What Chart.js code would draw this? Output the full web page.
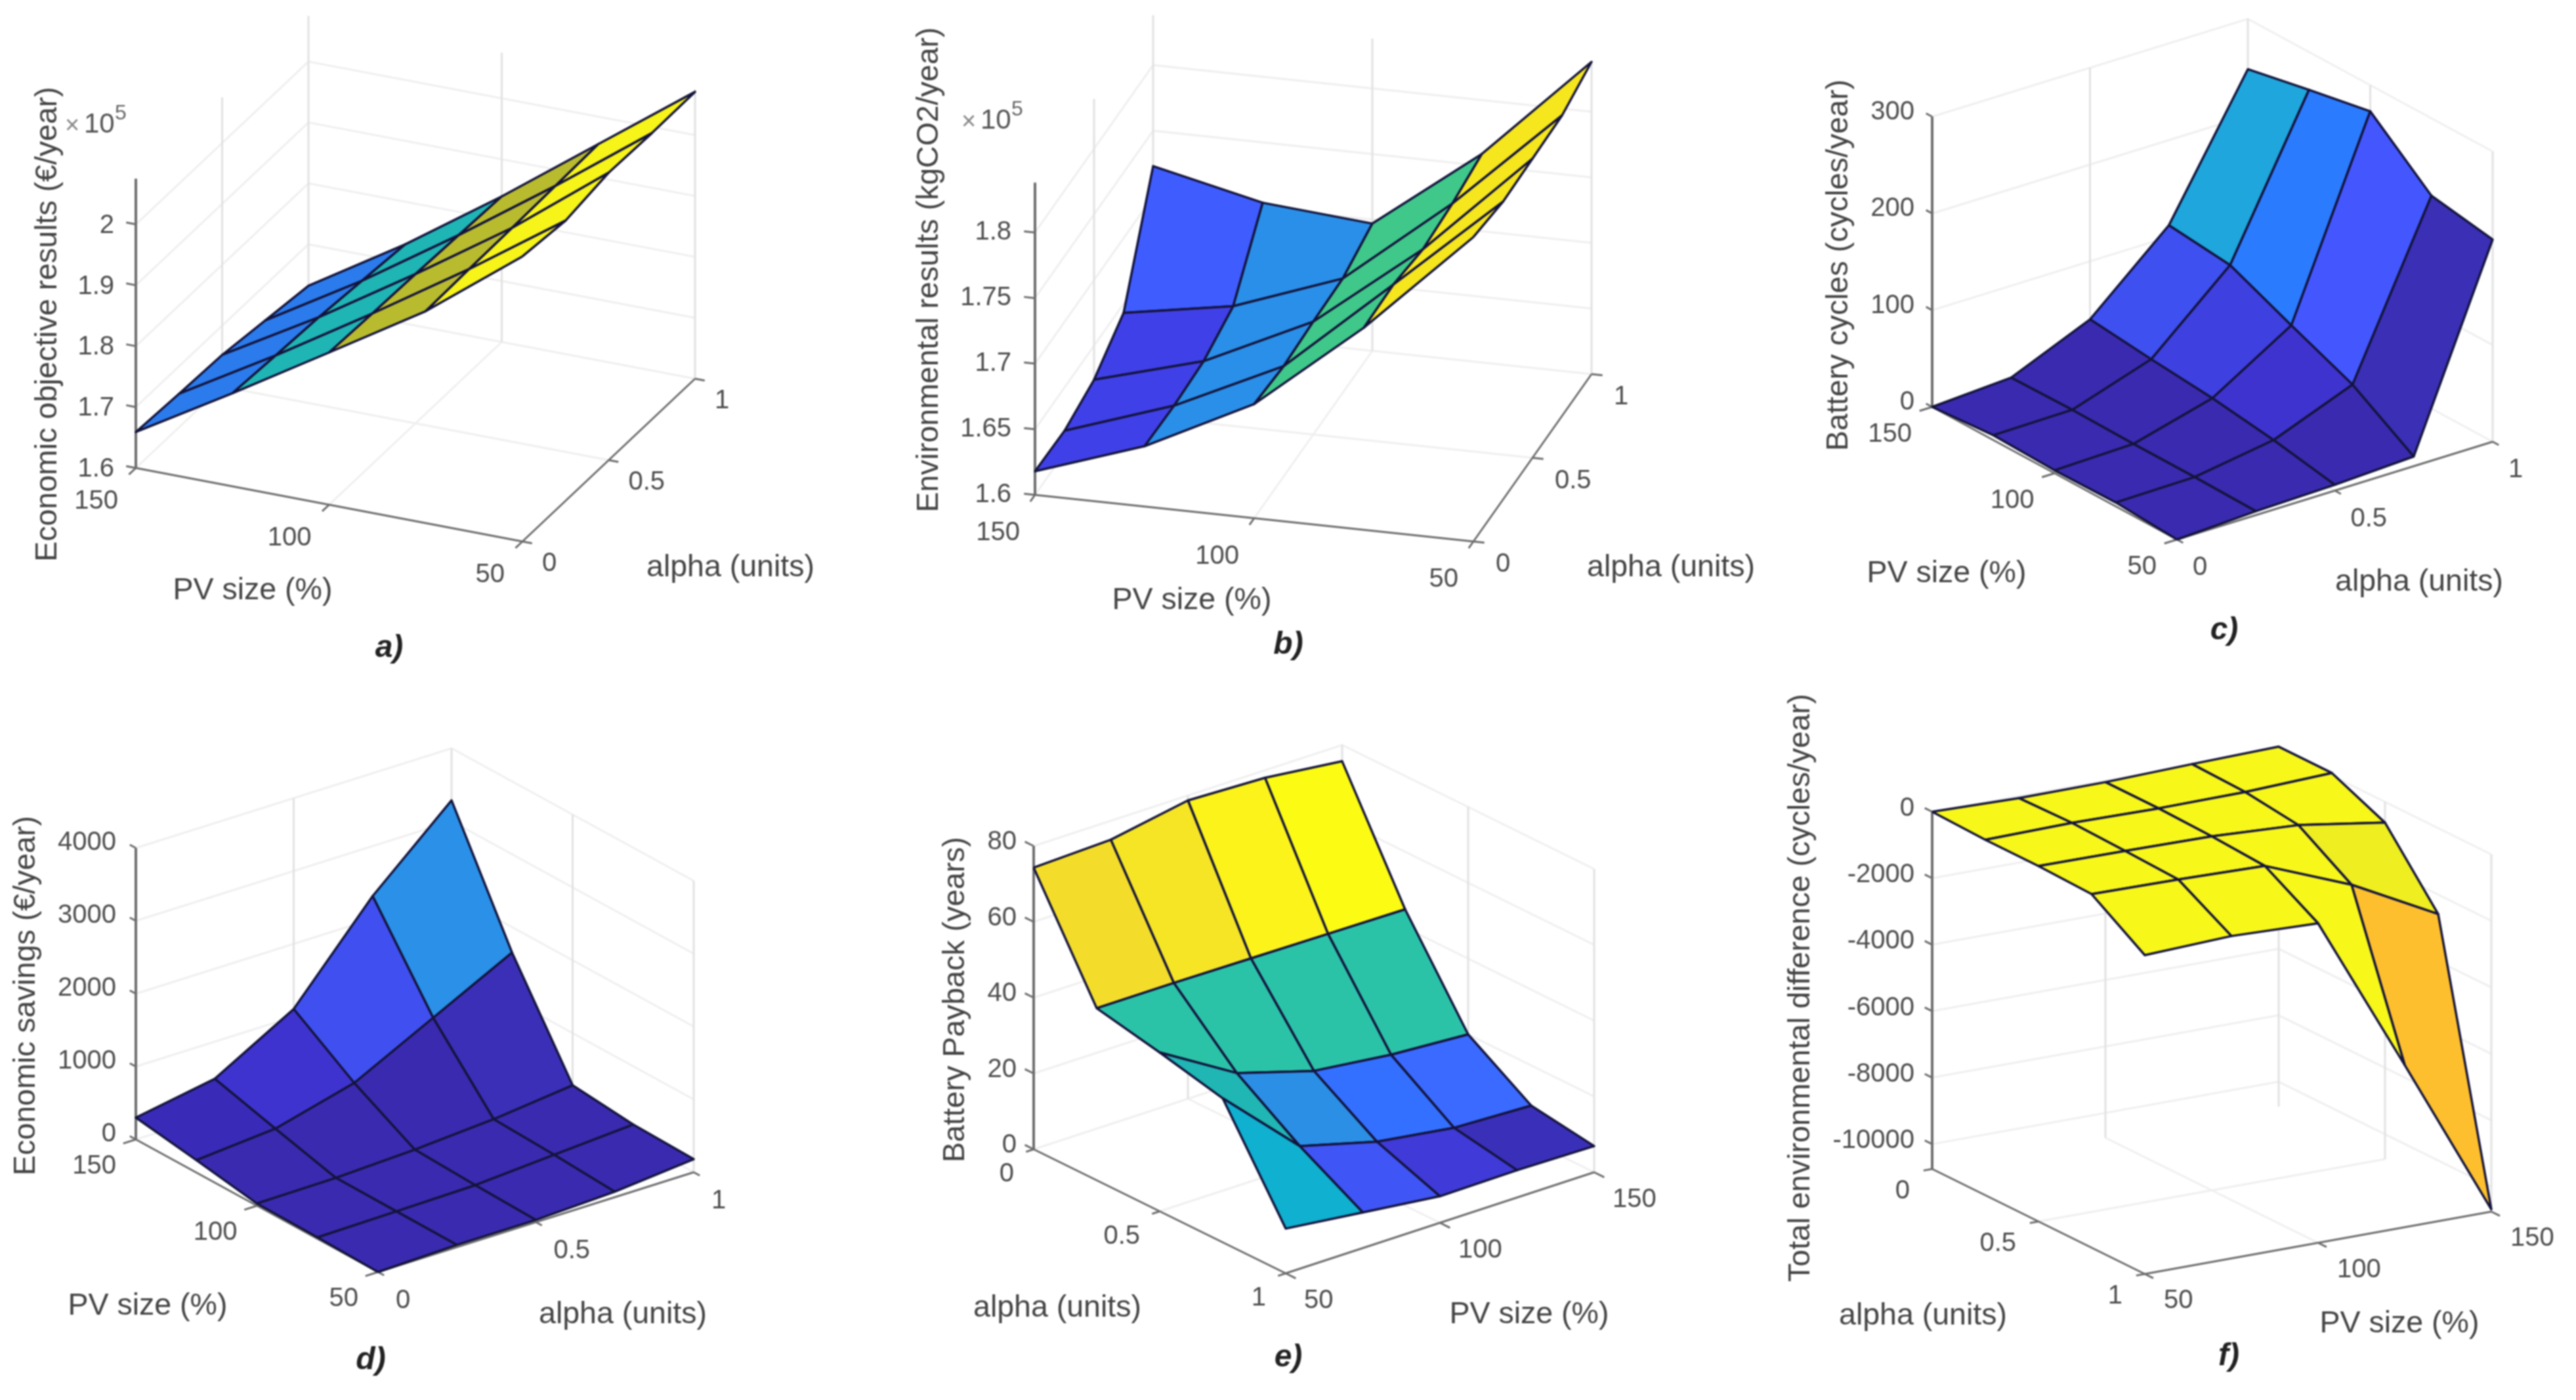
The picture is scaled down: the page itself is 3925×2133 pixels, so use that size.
<!DOCTYPE html>
<html>
<head>
<meta charset="utf-8">
<title>Surface results</title>
<script src="https://cdn.jsdelivr.net/npm/chart.js@4"></script>
<style>
  html, body { margin: 0; background: #fff; }
  canvas { position: absolute; filter: blur(1.1px); }
</style>
</head>
<body>
<script>
const pvSizes = [50, 75, 100, 125, 150];
const alphaLevels = [0, 0.25, 0.5, 0.75, 1];
const pvTicks = [50, 100, 150];
const alphaTicks = [0, 0.5, 1];

// every table: one row per alpha level, one column per PV size
const economicObjective = [
  [2.068, 1.948, 1.850, 1.753, 1.659],
  [2.060, 1.950, 1.847, 1.748, 1.655],
  [2.072, 1.951, 1.845, 1.744, 1.652],
  [2.070, 1.953, 1.842, 1.737, 1.642],
  [2.071, 1.955, 1.839, 1.730, 1.632]
];
const environmentalResults = [
  [1.832, 1.754, 1.687, 1.646, 1.618],
  [1.827, 1.755, 1.684, 1.645, 1.617],
  [1.828, 1.750, 1.686, 1.647, 1.624],
  [1.829, 1.753, 1.687, 1.657, 1.643],
  [1.838, 1.759, 1.697, 1.704, 1.723]
];
const batteryCycles = [
  [0, 4, 3, 5, 0],
  [4, 5, 5, 6, 5],
  [6, 18, 27, 33, 40],
  [10, 50, 77, 105, 112],
  [209, 220, 273, 261, 248]
];
const economicSavings = [
  [0, 20, 30, 170, 300],
  [30, 35, 40, 260, 490],
  [30, 52, 85, 545, 1105],
  [75, 127, 160, 1097, 2313],
  [180, 200, 283, 1649, 3284]
];
const batteryPayback = [
  [74.3, 75, 78.7, 78, 75.7],
  [45.4, 45.4, 45.2, 45, 44.8],
  [41.9, 29.8, 23.7, 21.3, 20],
  [38, 18.7, 13.2, 10.2, 9.4],
  [11.8, 9.4, 7, 7.2, 6.9]
];
const totalEnvDifference = [
  [0, -58, -48, 27, 82],
  [-54, -15, -48, -25, 80],
  [-54, -70, -100, -230, -625],
  [-110, -140, -200, -1235, -2585],
  [-1156, -1050, -1136, -5867, -10680]
];

const ticksA = [1.6, 1.7, 1.8, 1.9, 2];
const ticksB = [1.6, 1.65, 1.7, 1.75, 1.8];
const ticksC = [0, 100, 200, 300];
const ticksD = [0, 1000, 2000, 3000, 4000];
const ticksE = [0, 20, 40, 60, 80];
const ticksF = [0, -2000, -4000, -6000, -8000, -10000];

// face colours, one per cell, same row/column order as the tables
const dk = '#3a2ab0';
const yl = '#f7f71a';
const facesA = Array(4).fill(['#f6f419', '#b9bb2e', '#1fb5b5', '#2b7bec']);
const facesB = [
  ['#f5e61e', '#3fc88a', '#2a8fe8', '#4040e8'],
  ['#f5e61e', '#3fc88a', '#2a8fe8', '#4040e8'],
  ['#f5e61e', '#3fc88a', '#2a8fe8', '#4040e8'],
  ['#f5e61e', '#3fc88a', '#2a8fe8', '#3f5cff']
];
const facesC = [
  [dk, dk, dk, dk],
  [dk, dk, dk, dk],
  [dk, '#3f33d0', '#3e40e0', '#3f50f0'],
  ['#3a2fb5', '#4457ff', '#2b7bff', '#1fa6dc']
];
const facesD = [
  [dk, dk, dk, '#3a2ab8'],
  [dk, dk, dk, '#3f33d0'],
  [dk, dk, dk, '#4050f0'],
  [dk, dk, '#3b2fb8', '#2a90e8']
];
const facesE = [
  ['#f3dd2a', '#f5e525', '#fbf31a', '#fbfb14'],
  ['#2bc3a8', '#2bc3a8', '#2bc3a8', '#2bc3a8'],
  ['#1fb6b3', '#2b8fe6', '#3370ff', '#3a6aff'],
  ['#0fb0d0', '#4055f5', '#3f3ad8', '#3a2fb8']
];
const facesF = [
  [yl, yl, yl, yl],
  [yl, yl, yl, yl],
  [yl, yl, yl, '#eeee20'],
  [yl, yl, yl, '#fdbf2d']
];

const panels = [
  { rect: [0, 0, 1290, 1040], values: economicObjective, faces: facesA, zTicks: ticksA, zLabels: ['1.6', '1.7', '1.8', '1.9', '2'],
    left: [207, 713], front: [796, 825], right: [1059, 577], zBase: 1.6, zTop: 2.075, zPx: 928,
    zLabel: 'Economic objective results (€/year)', zLabelPos: [73, 494], zOff: [-33, 2], pvOff: [-27, 51], alOff: [30, 34],
    pvPos: [385, 900], alPos: [1113, 865], tag: 'a)', tagPos: [593, 988], exp: [99, 190] },
  { rect: [1300, 0, 1390, 1040], values: environmentalResults, faces: facesB, zTicks: ticksB, zLabels: ['1.6', '1.65', '1.7', '1.75', '1.8'],
    left: [1577, 754], front: [2245, 825], right: [2425, 570], zBase: 1.6, zTop: 1.838, zPx: 1999,
    zLabel: 'Environmental results (kgCO2/year)', zLabelPos: [1416, 411], zOff: [-36, 0], pvOff: [-23, 58], alOff: [34, 35],
    pvPos: [1816, 915], alPos: [2546, 865], tag: 'b)', tagPos: [1963, 983], exp: [1465, 184] },
  { rect: [2690, 0, 1235, 1040], values: batteryCycles, faces: facesC, zTicks: ticksC, zLabels: ['0', '100', '200', '300'],
    left: [2944, 620], front: [3317, 822], right: [3798, 673], zBase: 0, zTop: 300, zPx: 1.474,
    zLabel: 'Battery cycles (cycles/year)', zLabelPos: [2802, 404], zOff: [-27, -7], pvOff: [-31, 42], alOff: [24, 43],
    pvPos: [2966, 874], alPos: [3686, 887], tag: 'c)', tagPos: [3389, 961] },
  { rect: [0, 1040, 1290, 1093], values: economicSavings, faces: facesD, zTicks: ticksD, zLabels: ['0', '1000', '2000', '3000', '4000'],
    left: [207, 1736], front: [576, 1938], right: [1057, 1786], zBase: 0, zTop: 4000, zPx: 0.111,
    zLabel: 'Economic savings (€/year)', zLabelPos: [40, 1517], zOff: [-30, -8], pvOff: [-30, 41], alOff: [27, 44],
    pvPos: [225, 1990], alPos: [949, 2003], tag: 'd)', tagPos: [565, 2073] },
  { rect: [1300, 1040, 1330, 1093], values: batteryPayback, faces: facesE, zTicks: ticksE, zLabels: ['0', '20', '40', '60', '80'], pvOnRight: true,
    left: [1575, 1751], front: [1959, 1940], right: [2429, 1786], zBase: 0, zTop: 80, zPx: 5.775,
    zLabel: 'Battery Payback (years)', zLabelPos: [1456, 1523], zOff: [-26, -6], pvOff: [28, 42], alOff: [-30, 38],
    pvPos: [2330, 2003], alPos: [1611, 1993], tag: 'e)', tagPos: [1963, 2069] },
  { rect: [2640, 1040, 1285, 1093], values: totalEnvDifference, faces: facesF, zTicks: ticksF, zLabels: ['0', '-2000', '-4000', '-6000', '-8000', '-10000'], pvOnRight: true,
    left: [2944, 1781], front: [3268, 1941], right: [3796, 1846], zBase: -10748, zTop: 0, zPx: 0.05064,
    zLabel: 'Total environmental difference (cycles/year)', zLabelPos: [2744, 1505], zOff: [-27, -5], pvOff: [29, 41], alOff: [-34, 34],
    pvPos: [3656, 2017], alPos: [2930, 2005], tag: 'f)', tagPos: [3396, 2067] }
];

const FONT = '"Liberation Sans", Arial, sans-serif';
const TICK_COLOR = '#4d4d4d';
const LABEL_COLOR = '#444';

function makeProjection(p) {
  const sub = (a, b) => [a[0] - b[0], a[1] - b[1]];
  const o = p.pvOnRight ? p.left : p.front;
  const pvVec = p.pvOnRight ? sub(p.right, p.front) : sub(p.left, p.front);
  const alVec = p.pvOnRight ? sub(p.front, p.left) : sub(p.right, p.front);
  return (pv, alpha, z) => {
    const f = (pv - 50) / 100;
    return {
      x: o[0] + f * pvVec[0] + alpha * alVec[0],
      y: o[1] + f * pvVec[1] + alpha * alVec[1] - (z - p.zBase) * p.zPx
    };
  };
}

function line(data, color, width) {
  return { data, showLine: true, fill: false, borderColor: color, borderWidth: width, pointRadius: 0, tension: 0 };
}

function buildDatasets(p) {
  const proj = makeProjection(p);
  const back = [];
  const grid = '#efefef';
  const gridV = '#e2e2e2';
  const axis = '#6e6e6e';
  const wall = p.pvOnRight ? [[50, 0], [150, 0], [150, 1]] : [[150, 0], [150, 1], [50, 1]];
  const mids = p.pvOnRight ? [[100, 0], [150, 0.5]] : [[150, 0.5], [100, 1]];
  const axisAlpha = p.pvOnRight ? 1 : 0;
  const tickOut = p.pvOnRight ? 0.04 : -0.04;

  // floor grid
  back.push(line([proj(100, 0, p.zBase), proj(100, 1, p.zBase)], grid, 3));
  back.push(line([proj(50, 0.5, p.zBase), proj(150, 0.5, p.zBase)], grid, 3));
  // wall grid
  p.zTicks.forEach(z => back.push(line(wall.map(c => proj(c[0], c[1], z)), grid, 3)));
  mids.concat(wall.slice(1)).forEach(c => {
    back.push(line([proj(c[0], c[1], p.zBase), proj(c[0], c[1], p.zTop)], gridV, 3));
  });
  // axes and their ticks
  back.push(line([proj(wall[0][0], wall[0][1], p.zBase), proj(wall[0][0], wall[0][1], p.zTop)], axis, 4));
  back.push(line([proj(50, axisAlpha, p.zBase), proj(150, axisAlpha, p.zBase)], axis, 3));
  back.push(line([proj(50, 0, p.zBase), proj(50, 1, p.zBase)], axis, 3));
  p.zTicks.forEach(z => {
    const a = proj(wall[0][0], wall[0][1], z);
    const b = p.pvOnRight ? proj(wall[0][0], wall[0][1] - 0.035, z) : proj(wall[0][0] + 2.5, wall[0][1], z);
    back.push(line([a, b], axis, 3));
  });
  pvTicks.forEach(v => back.push(line([proj(v, axisAlpha, p.zBase), proj(v, axisAlpha + tickOut, p.zBase)], axis, 3)));
  alphaTicks.forEach(v => back.push(line([proj(50, v, p.zBase), proj(47.5, v, p.zBase)], axis, 3)));

  // surface cells, painted far to near: a lower floor point on screen is nearer
  const cells = [];
  for (let a = 0; a < alphaLevels.length - 1; a++) {
    for (let v = 0; v < pvSizes.length - 1; v++) {
      const corners = [[a, v], [a, v + 1], [a + 1, v + 1], [a + 1, v], [a, v]];
      const midFloor = proj((pvSizes[v] + pvSizes[v + 1]) / 2, (alphaLevels[a] + alphaLevels[a + 1]) / 2, p.zBase);
      cells.push({
        depth: midFloor.y,
        ds: {
          data: corners.map(c => proj(pvSizes[c[1]], alphaLevels[c[0]], p.values[c[0]][c[1]])),
          showLine: true, fill: 'shape', backgroundColor: p.faces[a][v],
          borderColor: '#14143c', borderWidth: 3.5, borderJoinStyle: 'round', pointRadius: 0, tension: 0
        }
      });
    }
  }
  cells.sort((m, n) => m.depth - n.depth);

  const paintOrder = back.concat(cells.map(c => c.ds));
  // Chart.js paints the last dataset first
  return paintOrder.reverse();
}

const textPlugin = {
  id: 'panelText',
  afterDraw(chart) {
    const p = chart.options.plugins.panelText.panel;
    const proj = makeProjection(p);
    const ctx = chart.ctx;
    const sx = v => chart.scales.x.getPixelForValue(v);
    const sy = v => chart.scales.y.getPixelForValue(v);
    const put = (text, x, y, size, color, align, rot, style) => {
      ctx.save();
      ctx.translate(sx(x), sy(y));
      if (rot) ctx.rotate(rot);
      ctx.font = (style || '') + ' ' + size + 'px ' + FONT;
      ctx.fillStyle = color;
      ctx.textAlign = align;
      ctx.textBaseline = 'middle';
      ctx.fillText(text, 0, 0);
      ctx.restore();
    };
    const wall0 = p.pvOnRight ? [50, 0] : [150, 0];
    const axisAlpha = p.pvOnRight ? 1 : 0;
    p.zTicks.forEach((z, i) => {
      const t = proj(wall0[0], wall0[1], z);
      put(p.zLabels[i], t.x + p.zOff[0], t.y + p.zOff[1], 40, TICK_COLOR, 'right');
    });
    pvTicks.forEach(v => {
      const t = proj(v, axisAlpha, p.zBase);
      put(String(v), t.x + p.pvOff[0], t.y + p.pvOff[1], 40, TICK_COLOR, p.pvOnRight ? 'left' : 'right');
    });
    alphaTicks.forEach(v => {
      const t = proj(50, v, p.zBase);
      put(String(v), t.x + p.alOff[0], t.y + p.alOff[1], 40, TICK_COLOR, p.pvOnRight ? 'right' : 'left');
    });
    put(p.zLabel, p.zLabelPos[0], p.zLabelPos[1], 46.5, LABEL_COLOR, 'center', -Math.PI / 2);
    put('PV size (%)', p.pvPos[0], p.pvPos[1], 46.5, LABEL_COLOR, 'center');
    put('alpha (units)', p.alPos[0], p.alPos[1], 46.5, LABEL_COLOR, 'center');
    put(p.tag, p.tagPos[0], p.tagPos[1], 48, '#222', 'center', 0, 'italic bold');
    if (p.exp) {
      put('×', p.exp[0], p.exp[1] + 3, 38, '#888', 'left');
      put('10', p.exp[0] + 29, p.exp[1], 42, '#555', 'left');
      put('5', p.exp[0] + 76, p.exp[1] - 17, 32, '#666', 'left');
    }
  }
};

panels.forEach(p => {
  const [rx, ry, rw, rh] = p.rect;
  const canvas = document.createElement('canvas');
  canvas.width = rw;
  canvas.height = rh;
  canvas.style.left = rx + 'px';
  canvas.style.top = ry + 'px';
  canvas.style.width = rw + 'px';
  canvas.style.height = rh + 'px';
  document.body.appendChild(canvas);
  new Chart(canvas.getContext('2d'), {
    type: 'scatter',
    data: { datasets: buildDatasets(p) },
    plugins: [textPlugin],
    options: {
      responsive: false,
      animation: false,
      devicePixelRatio: 1,
      layout: { padding: 0 },
      events: [],
      scales: {
        x: { type: 'linear', display: false, min: rx, max: rx + rw },
        y: { type: 'linear', display: false, min: ry, max: ry + rh, reverse: true }
      },
      plugins: { legend: { display: false }, tooltip: { enabled: false }, panelText: { panel: p } }
    }
  });
});
</script>
</body>
</html>
